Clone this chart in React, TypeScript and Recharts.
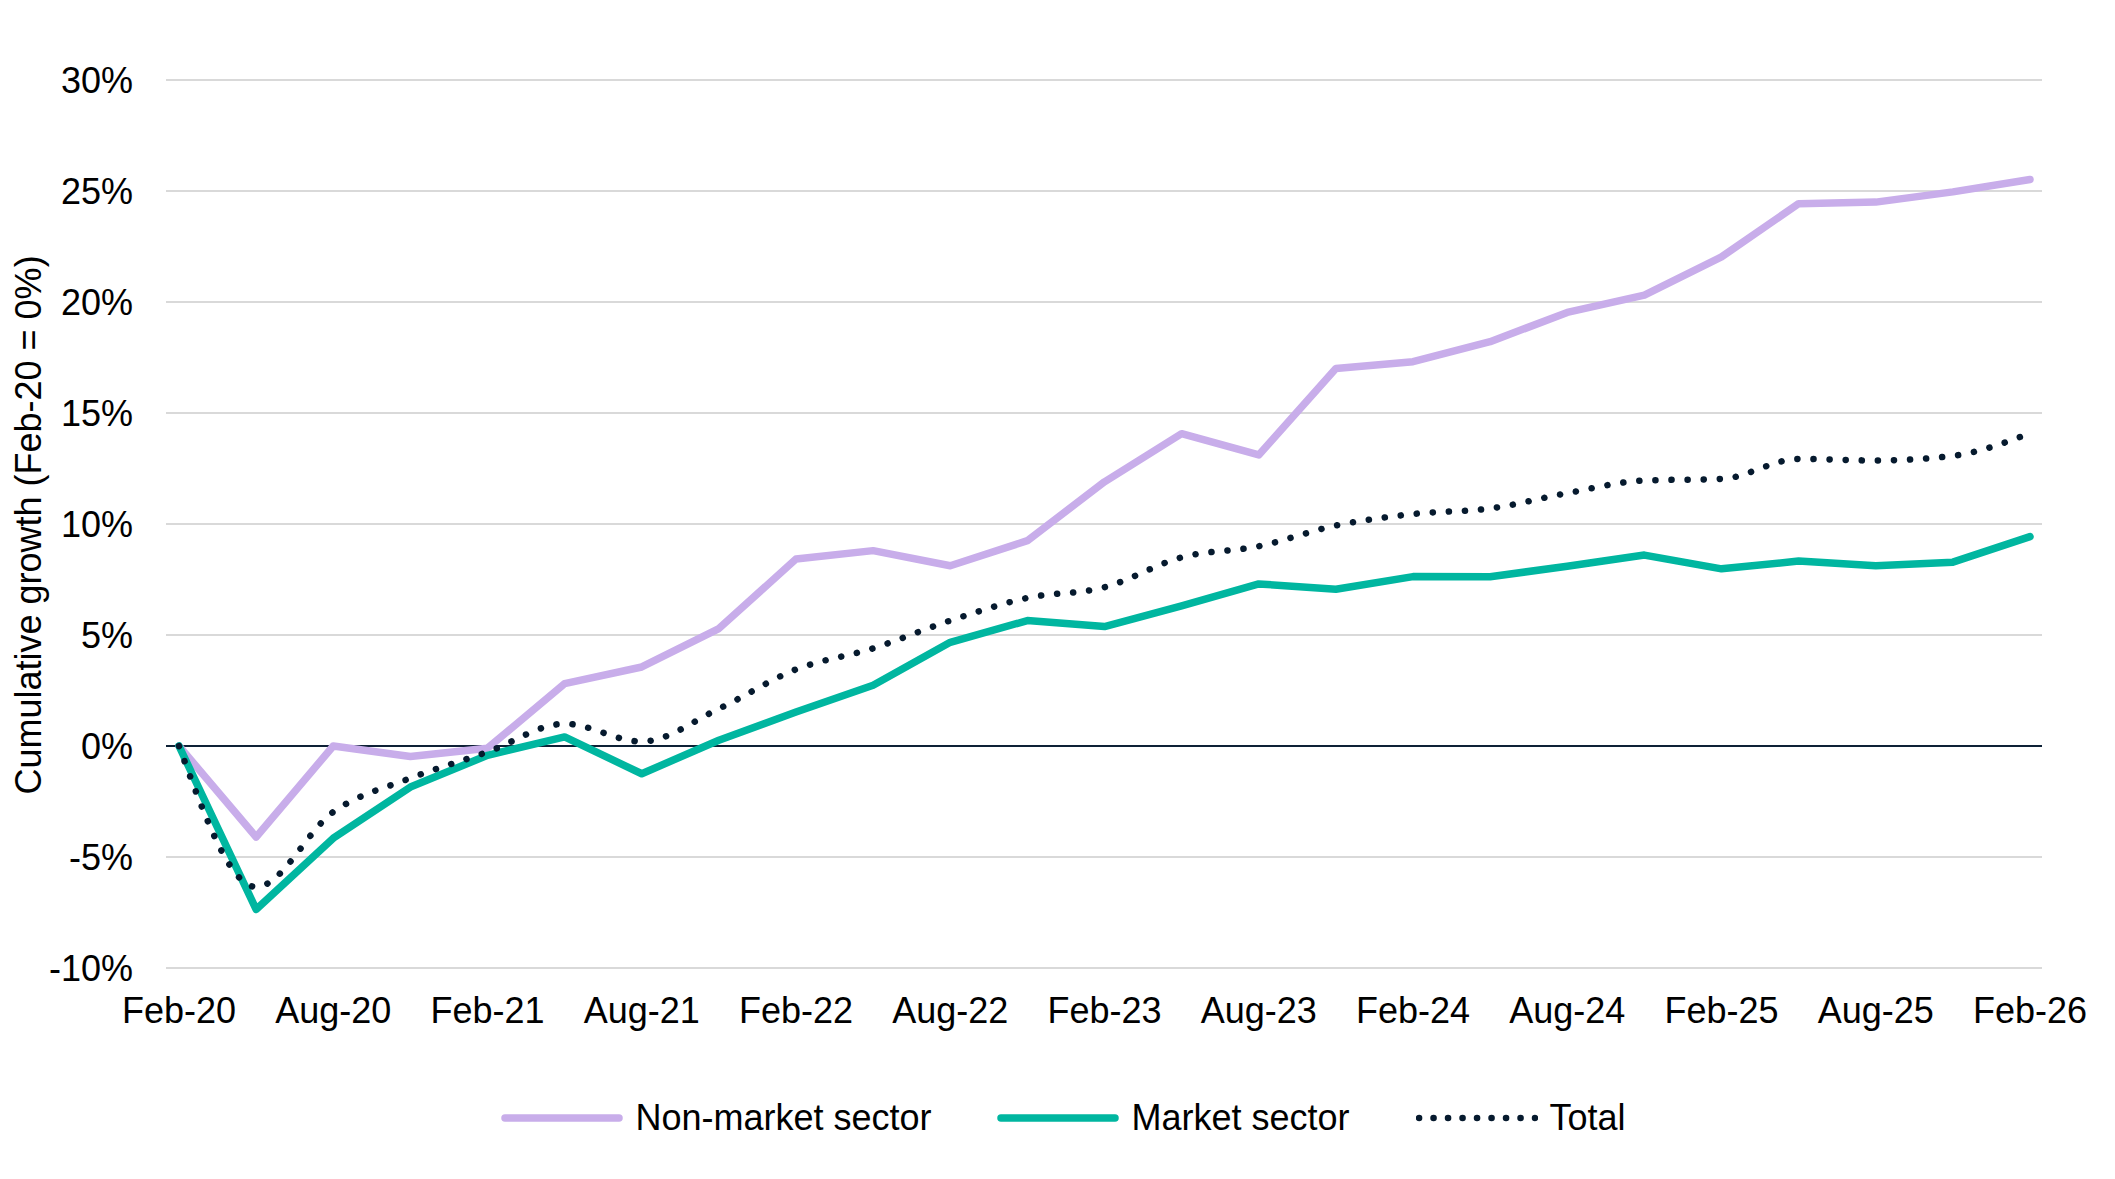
import React from "react";
import {
  LineChart,
  Line,
  XAxis,
  YAxis,
  CartesianGrid,
  ReferenceLine,
  Legend,
  Label,
} from "recharts";

const quarters = [
  "Feb-20", "May-20", "Aug-20", "Nov-20",
  "Feb-21", "May-21", "Aug-21", "Nov-21",
  "Feb-22", "May-22", "Aug-22", "Nov-22",
  "Feb-23", "May-23", "Aug-23", "Nov-23",
  "Feb-24", "May-24", "Aug-24", "Nov-24",
  "Feb-25", "May-25", "Aug-25", "Nov-25",
  "Feb-26",
];

const nonMarket = [
  0, -4.1, 0.0, -0.47, -0.1, 2.81, 3.56, 5.29, 8.42, 8.8, 8.12, 9.25, 11.9,
  14.07, 13.11, 17.0, 17.31, 18.21, 19.53, 20.31, 22.03, 24.43, 24.5, 24.96, 25.52,
];

const market = [
  0, -7.36, -4.15, -1.85, -0.42, 0.41, -1.25, 0.26, 1.53, 2.74, 4.67, 5.65, 5.38,
  6.31, 7.3, 7.06, 7.63, 7.62, 8.1, 8.6, 7.98, 8.33, 8.12, 8.28, 9.43,
];

const total = [
  0, -6.35, -2.97, -1.45, -0.27, 1.0, 0.2, 1.68, 3.45, 4.4, 5.65, 6.67, 7.15,
  8.5, 9.0, 9.93, 10.45, 10.7, 11.39, 11.96, 12.03, 12.93, 12.86, 13.07, 14.09,
];

const yTicks = [-10, -5, 0, 5, 10, 15, 20, 25, 30];

const data = quarters.map((q, i) => ({
  quarter: q,
  nonMarket: nonMarket[i],
  market: market[i],
  total: total[i],
}));

const FONT = "'Liberation Sans', Arial, sans-serif";
const PURPLE = "#C8ADEA";
const GREEN = "#00B6A0";
const NAVY = "#061A2E";

const legendItems = [
  { label: "Non-market sector", color: PURPLE, dotted: false },
  { label: "Market sector", color: GREEN, dotted: false },
  { label: "Total", color: NAVY, dotted: true },
];

const renderLegend = () => (
  <div
    style={{
      display: "flex",
      justifyContent: "center",
      alignItems: "center",
      height: 44,
      paddingLeft: 12,
      fontFamily: FONT,
      fontSize: 36,
      color: "#000",
    }}
  >
    {legendItems.map((item, i) => (
      <div key={item.label} style={{ display: "flex", alignItems: "center", marginRight: i < 2 ? 66 : 0 }}>
        <svg width={122} height={12}>
          <line
            x1={item.dotted ? 3 : 4}
            x2={item.dotted ? 119 : 118}
            y1={6}
            y2={6}
            stroke={item.color}
            strokeWidth={item.dotted ? 6.5 : 7.5}
            strokeLinecap="round"
            strokeDasharray={item.dotted ? "0.1 14.4" : undefined}
          />
        </svg>
        <span style={{ marginLeft: 12 }}>{item.label}</span>
      </div>
    ))}
  </div>
);

const YTitle = () => (
  <text
    x={28}
    y={525}
    transform="rotate(-90, 28, 525)"
    textAnchor="middle"
    dominantBaseline="central"
    fontFamily={FONT}
    fontSize={36}
    fill="#000"
  >
    Cumulative growth (Feb-20 = 0%)
  </text>
);

export default function App() {
  return (
    <div style={{ position: "absolute", left: 0, top: 0, width: 2115, height: 1179, background: "#fff" }}>
      <LineChart
        width={2115}
        height={1179}
        data={data}
        margin={{ top: 80, right: 73, left: 0, bottom: 151 }}
      >
        <CartesianGrid vertical={false} stroke="#D9D9D9" strokeWidth={2} />
        <XAxis
          dataKey="quarter"
          interval={1}
          axisLine={false}
          tickLine={false}
          tickSize={0}
          tickMargin={29}
          height={60}
          padding={{ left: 13, right: 12 }}
          tick={{ fontFamily: FONT, fontSize: 36, fill: "#000" }}
        />
        <YAxis
          domain={[-10, 30]}
          ticks={yTicks}
          width={166}
          axisLine={false}
          tickLine={false}
          tickSize={0}
          tickMargin={33}
          tickFormatter={(v: number) => `${v}%`}
          tick={{ fontFamily: FONT, fontSize: 36, fill: "#000" }}
        >
          <Label content={<YTitle />} />
        </YAxis>
        <ReferenceLine y={0} stroke="#0E2136" strokeWidth={2} />
        <Line
          dataKey="nonMarket"
          type="linear"
          stroke={PURPLE}
          strokeWidth={7.5}
          strokeLinecap="round"
          strokeLinejoin="round"
          dot={false}
          activeDot={false}
          isAnimationActive={false}
        />
        <Line
          dataKey="market"
          type="linear"
          stroke={GREEN}
          strokeWidth={7.5}
          strokeLinecap="round"
          strokeLinejoin="round"
          dot={false}
          activeDot={false}
          isAnimationActive={false}
        />
        <Line
          dataKey="total"
          type="monotone"
          stroke={NAVY}
          strokeWidth={6.5}
          strokeLinecap="round"
          strokeDasharray="0.1 16"
          dot={false}
          activeDot={false}
          isAnimationActive={false}
        />
        <Legend
          layout="horizontal"
          verticalAlign="middle"
          align="center"
          content={renderLegend}
          wrapperStyle={{ top: 1096, left: 0, width: 2115 }}
        />
      </LineChart>
    </div>
  );
}
